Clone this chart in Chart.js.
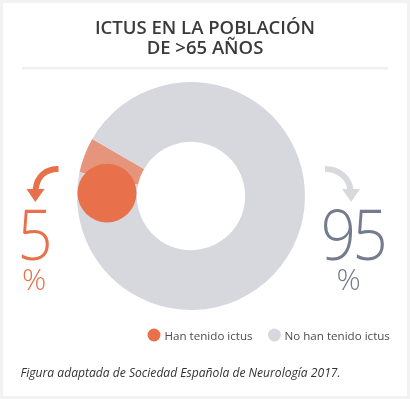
<!DOCTYPE html>
<html>
<head>
<meta charset="utf-8">
<script src="https://cdn.jsdelivr.net/npm/chart.js@4"></script>
<style>
  html,body{margin:0;padding:0;background:#f2f2f2;}
  #wrap{position:relative;width:410px;height:399px;background:#f2f2f2;overflow:hidden;font-family:"Open Sans",sans-serif;}
  #card{position:absolute;left:3px;top:3px;width:404px;height:393px;background:#fff;}
  #c{position:absolute;left:0;top:0;}
  #ov{position:absolute;left:0;top:0;}
</style>
</head>
<body>
<div id="wrap">
  <div id="card"></div>
  <canvas id="c" width="410" height="399"></canvas>
  <svg id="ov" width="410" height="399" xmlns="http://www.w3.org/2000/svg" font-family="'Open Sans', sans-serif">
    <text x="205" y="34" text-anchor="middle" font-size="18.5" font-weight="600" fill="#3a3a3a">ICTUS EN LA POBLACIÓN</text>
    <text x="205" y="53.5" text-anchor="middle" font-size="18.5" font-weight="600" fill="#3a3a3a">DE &gt;65 AÑOS</text>
    <rect x="22" y="67" width="366" height="2.5" fill="#efefef"/>
    <path d="M58.5,169 C46,169 37,176 35.5,190" fill="none" stroke="#e8704a" stroke-width="6"/>
    <polygon points="26.5,189 44.5,189 35.3,202" fill="#e8704a"/>
    <path d="M325,169 C338,169 349,177 350.5,190" fill="none" stroke="#d8d8df" stroke-width="6"/>
    <polygon points="342,189 360,189 351.2,202" fill="#d8d8df"/>
    <g transform="translate(35,260) scale(0.88,1)">
      <text id="vA" x="0" y="0" text-anchor="middle" font-size="70" font-weight="300" fill="#e8704a"></text>
    </g>
    <text x="34" y="290" text-anchor="middle" font-size="30" font-weight="300" fill="#e8704a">%</text>
    <g transform="translate(352.5,260) scale(0.88,1)">
      <text id="vB" x="0" y="0" text-anchor="middle" font-size="70" font-weight="300" letter-spacing="-4" fill="#737b8c"></text>
    </g>
    <text x="348.5" y="290" text-anchor="middle" font-size="30" font-weight="300" fill="#737b8c">%</text>
    <circle id="d0" cx="154" cy="335" r="6.5"/>
    <text id="l0" x="164.5" y="339.5" font-size="11.6" fill="#4d4d4d"></text>
    <circle id="d1" cx="274.5" cy="335" r="6.5"/>
    <text id="l1" x="284.5" y="339.5" font-size="11.6" fill="#4d4d4d"></text>
    <text x="20.5" y="377" font-size="12.1" font-style="italic" fill="#333">Figura adaptada de Sociedad Española de Neurología 2017.</text>
  </svg>
</div>
<script>
const categories = ["Han tenido ictus", "No han tenido ictus"];
const values = [5, 95];
const sliceColors = ["#e6947b", "#d7d7de"];
const legendColors = ["#e8704a", "#d7d7de"];

document.getElementById('vA').textContent = values[0];
document.getElementById('vB').textContent = values[1];
categories.forEach((c, i) => {
  document.getElementById('l' + i).textContent = c;
  document.getElementById('d' + i).setAttribute('fill', legendColors[i]);
});

const markerPlugin = {
  id: 'marker',
  afterDatasetsDraw(chart) {
    const arc = chart.getDatasetMeta(0).data[0];
    if (!arc) return;
    const p = arc.getProps(['x','y','startAngle','innerRadius','outerRadius'], true);
    const mid = (p.innerRadius + p.outerRadius) / 2;
    const r = (p.outerRadius - p.innerRadius) / 2;
    const a = p.startAngle - 10 * Math.PI / 180;
    const ctx = chart.ctx;
    ctx.save();
    ctx.fillStyle = legendColors[0];
    ctx.beginPath();
    ctx.arc(p.x + mid * Math.cos(a), p.y + mid * Math.sin(a), r - 0.5, 0, Math.PI * 2);
    ctx.fill();
    ctx.restore();
  }
};

new Chart(document.getElementById('c'), {
  type: 'doughnut',
  data: {
    labels: categories,
    datasets: [{ data: values, backgroundColor: sliceColors, borderWidth: 0 }]
  },
  options: {
    responsive: false,
    animation: false,
    rotation: 282,
    cutout: '47.5%',
    layout: { padding: { left: 77, right: 105, top: 82, bottom: 89 } },
    plugins: { legend: { display: false }, tooltip: { enabled: false }, title: { display: false } }
  },
  plugins: [markerPlugin]
});
</script>
</body>
</html>
